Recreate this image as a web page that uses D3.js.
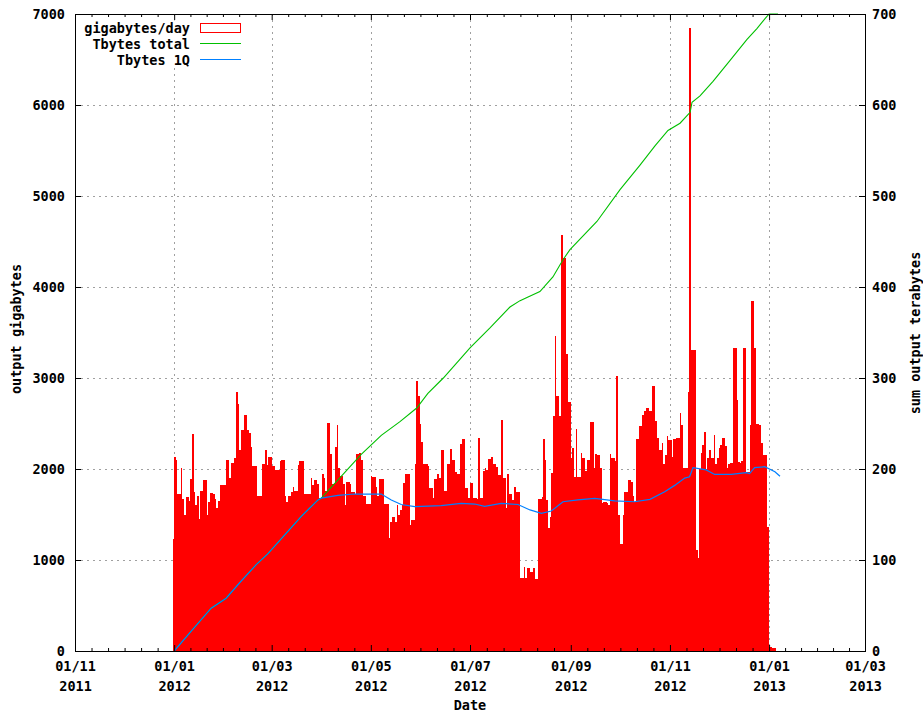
<!DOCTYPE html>
<html><head><meta charset="utf-8">
<script src="https://cdn.jsdelivr.net/npm/d3@7"></script>
<style>
body{margin:0;background:#fff}
svg{display:block}
text{font-family:"DejaVu Sans Mono",monospace;font-weight:bold;font-size:13.5px;fill:#000}
</style>
</head><body>
<svg id="c" width="923" height="713"></svg>
<script>
// ---------------- DATA ----------------
const startDate = "2012-01-01";           // first daily bar
const seriesNames = ["gigabytes/day", "Tbytes total", "Tbytes 1Q"];
// daily output, gigabytes (one value per day from startDate)
const gigabytesPerDay = [
  // Jan 2012
  1230,2135,2100,1730,1730,2010,1670,1500,1690,1690,1650,1890,2390,1750,1600,1700,1450,1760,1760,1880,1880,1490,1640,1740,1740,1720,1670,1575,1650,1820,1820,
  // Feb
  1820,1820,2100,2100,1900,2070,2070,2120,2850,2710,2210,2430,2430,2590,2590,2430,2400,2240,2030,2030,2030,1700,1700,1700,2050,2050,2210,2040,2130,
  // Mar
  2130,2030,2030,1990,1990,1990,2090,2100,2100,1700,1640,1700,1700,1750,1800,1760,1760,2045,2090,2090,2090,1730,1730,1730,1730,1905,1825,1880,1880,1840,1685,
  // Apr
  1685,1940,1905,1760,2510,2510,2170,1830,1830,2245,2480,2010,1925,1925,1840,1600,1860,1860,1840,1750,1750,1730,2170,2170,2180,2100,1700,1700,1620,1615,
  // May
  1615,1920,1910,1910,1805,1700,1890,1890,1885,1620,1620,1620,1240,1420,1475,1475,1420,1600,1495,1550,1600,1850,1950,1950,1950,1385,1440,1440,2060,2970,2800,
  // Jun
  2500,2300,2050,2050,2050,2030,1790,1790,1680,1890,1890,1940,1900,2210,2210,1760,1760,2060,2060,2215,2100,2100,1970,1940,1940,2280,2325,2325,1795,1795,
  // Jul
  1685,1850,1850,1680,1680,1665,2340,1680,1680,1980,2010,1990,2105,2105,2135,2060,2060,2025,1935,1935,2540,1900,1900,1570,1950,1730,1730,1660,1805,1750,1750,
  // Aug
  1750,800,800,920,800,910,915,870,870,915,790,790,1670,1670,1695,2325,2100,1660,1350,1475,1960,2585,3465,2805,2805,2585,4570,4315,4315,3260,2740,
  // Sep
  2740,2117,2227,1915,2440,1915,1915,2172,2117,2117,1978,2100,2100,2520,2520,2007,2160,2154,2154,2015,1623,1641,1641,1623,1604,2160,2117,2117,2088,3022,
  // Oct
  1494,1172,1172,1494,1751,1751,1879,1879,1861,1707,1641,2330,2330,2473,2473,2593,2637,2667,2667,2637,2637,2912,2912,2527,2337,2209,2209,2282,2051,2154,2363,
  // Nov
  2319,2319,2136,2326,2326,2337,2337,2612,2484,2007,2015,2015,2850,6850,3308,3308,3308,1110,1026,1996,2180,2264,2403,2000,2117,2209,2117,2117,2374,2051,
  // Dec
  2125,2227,2264,2337,2337,2256,2007,2051,2062,2062,3326,3326,2758,2073,2062,2088,3333,3333,1971,1971,2484,3846,3846,3326,2491,2491,2484,2282,2154,2154,2154,
  // Jan 2013
  1359,48,45,30,30
];
// cumulative total, terabytes (day offset from startDate, value)
const totalDays = [0,11.6,22.8,32,40.3,50.5,57.7,71.2,78.2,88.5,90.5,100.8,115.1,127.4,138.9,149.2,156.1,165.6,176.6,182,194.3,206.6,212.8,217.7,225,233,239.2,243.5,260.1,274.3,286.6,295.8,303.8,311.2,317.4,318.6,323.5,331.5,342,352.4,358.5,363.5,366,371.5];
const totalTB   = [0,24,47,58,75,95,107,134,148,166,168,188,216,237,252,267,283,300,322,333,355,378,385,389,395,411,430,441,472,507,534,555,572,580,592,603,610,626,649,672,684,695,700,700];
// trailing quarter sum, terabytes
const q1Days = [0,11.6,22.8,32,40.3,50.5,57.7,71.2,78.2,88.5,90.5,100.8,111,127.4,133.6,139.7,148,164.3,176.6,184.9,191,201.2,211.5,218.9,225.9,232,239.2,248.4,258.7,271,283.3,292.7,301.8,307.9,314.1,317.1,319.2,327.3,332.5,342.7,351.9,354,357.1,363.3,369.6,372.7];
const q1TB   = [0,24,47,58,75,95,107,134,148,166,168,171,172.5,172.5,166,161,158.6,159.7,162.3,161.5,159,162.3,161,155,151.3,153.8,164,166,167.8,165,164,166.7,175,182,190,191.5,201.5,199,194,194,196,195,201.5,202.5,197,192];
// axis ticks
const xTickDates = ["2011-11-01","2012-01-01","2012-03-01","2012-05-01","2012-07-01","2012-09-01","2012-11-01","2013-01-01","2013-03-01"];
const yLeftTicks  = [0,1000,2000,3000,4000,5000,6000,7000];
const yRightTicks = [0,100,200,300,400,500,600,700];
const axisTitles = {x:"Date", y:"output gigabytes", y2:"sum output terabytes"};

// ---------------- CHART ----------------
const L=75, R=865, T=14, B=651;
const parse = d3.utcParse("%Y-%m-%d");
const t0 = parse(startDate);
const tickDates = xTickDates.map(parse);
const x = d3.scaleUtc().domain([tickDates[0], tickDates[tickDates.length-1]]).range([L,R]);
const y = d3.scaleLinear().domain([0,7000]).range([B,T]);
const y2 = d3.scaleLinear().domain([0,700]).range([B,T]);
const svg = d3.select("#c");
svg.append("rect").attr("width",923).attr("height",713).attr("fill","#fff");

// grid
const grid = svg.append("g").attr("stroke","#a0a0a0").attr("stroke-width",1).attr("stroke-dasharray","2,4");
grid.selectAll("line.v").data(tickDates.slice(1,-1)).join("line")
  .attr("x1",d=>Math.round(x(d))+0.5).attr("x2",d=>Math.round(x(d))+0.5).attr("y1",T).attr("y2",B);
grid.selectAll("line.h").data(yLeftTicks.slice(1,-1)).join("line")
  .attr("y1",d=>Math.round(y(d))+0.5).attr("y2",d=>Math.round(y(d))+0.5).attr("x1",L).attr("x2",R);

// bars
const barData = gigabytesPerDay.map((v,i)=>({date:d3.utcDay.offset(t0,i), v}));
svg.append("g").attr("fill","#ff0000").attr("shape-rendering","crispEdges")
  .selectAll("rect").data(barData).join("rect")
  .attr("x",d=>x(d3.utcDay.offset(d.date,-1)))
  .attr("width",d=>x(d.date)-x(d3.utcDay.offset(d.date,-1)))
  .attr("y",d=>y(d.v)).attr("height",d=>B-y(d.v));

// lines
const lineGen = d3.line().x(d=>x(d3.utcHour.offset(t0, Math.round(d[0]*24)))).y(d=>y2(d[1]));
svg.append("path").datum(totalDays.map((d,i)=>[d,totalTB[i]]))
  .attr("d",lineGen).attr("fill","none").attr("stroke","#00c000").attr("stroke-width",1.1);
svg.append("path").datum(q1Days.map((d,i)=>[d,q1TB[i]]))
  .attr("d",lineGen).attr("fill","none").attr("stroke","#0080ff").attr("stroke-width",1.2);

// legend (opaque)
svg.append("rect").attr("x",79).attr("y",20.5).attr("width",167).attr("height",46).attr("fill","#fff");
const lg = svg.append("g");
const rowsY = [33,49,65];
seriesNames.forEach((n,i)=>{
  lg.append("text").attr("x",190).attr("y",rowsY[i]).attr("text-anchor","end").text(n);
});
lg.append("rect").attr("x",200.5).attr("y",23.5).attr("width",40).attr("height",9).attr("fill","#fff").attr("stroke","#ff0000");
lg.append("line").attr("x1",200).attr("x2",241).attr("y1",43.5).attr("y2",43.5).attr("stroke","#00c000").attr("stroke-width",1.2);
lg.append("line").attr("x1",200).attr("x2",241).attr("y1",59.5).attr("y2",59.5).attr("stroke","#0080ff").attr("stroke-width",1.2);

// minor x ticks (6 subdivisions per major interval)
const minorDates = [];
for (let i=0;i<tickDates.length-1;i++){
  const a=+tickDates[i], b=+tickDates[i+1];
  for (let k=1;k<6;k++) minorDates.push(new Date(a+(b-a)*k/6));
}
function clean(g){ g.select(".domain").remove(); g.attr("font-family",null).attr("font-size",null); }

// bottom axis (labels + inward ticks)
const fmtA = d3.utcFormat("%d/%m"), fmtB = d3.utcFormat("%Y");
svg.append("g").attr("transform",`translate(0,${B})`)
  .call(d3.axisBottom(x).tickValues(tickDates).tickSize(-6).tickFormat(""))
  .call(clean)
  .call(g=>g.selectAll(".tick").append("text").attr("text-anchor","middle")
     .each(function(d){
       const t=d3.select(this);
       t.append("tspan").attr("x",0).attr("y",20).text(fmtA(d));
       t.append("tspan").attr("x",0).attr("y",40).text(fmtB(d));
     }));
svg.append("g").attr("transform",`translate(0,${B})`)
  .call(d3.axisBottom(x).tickValues(minorDates).tickSize(-3).tickFormat("")).call(clean);
// top mirror ticks
svg.append("g").attr("transform",`translate(0,${T})`)
  .call(d3.axisTop(x).tickValues(tickDates).tickSize(-6).tickFormat("")).call(clean);
svg.append("g").attr("transform",`translate(0,${T})`)
  .call(d3.axisTop(x).tickValues(minorDates).tickSize(-3).tickFormat("")).call(clean);
// left axis
svg.append("g").attr("transform",`translate(${L},0)`)
  .call(d3.axisLeft(y).tickValues(yLeftTicks).tickSize(-6).tickPadding(10).tickFormat(d3.format("d"))).call(clean);
// right axis
svg.append("g").attr("transform",`translate(${R},0)`)
  .call(d3.axisRight(y2).tickValues(yRightTicks).tickSize(-6).tickPadding(7).tickFormat(d3.format("d"))).call(clean);

// border
svg.append("rect").attr("x",L+0.5).attr("y",T+0.5).attr("width",R-L).attr("height",B-T)
  .attr("fill","none").attr("stroke","#000");

// axis titles
svg.append("text").attr("x",(L+R)/2).attr("y",710).attr("text-anchor","middle").text(axisTitles.x);
svg.append("text").attr("transform","translate(21,329) rotate(-90)").attr("text-anchor","middle").text(axisTitles.y);
svg.append("text").attr("transform","translate(920,333) rotate(-90)").attr("text-anchor","middle").text(axisTitles.y2);
</script>
</body></html>
